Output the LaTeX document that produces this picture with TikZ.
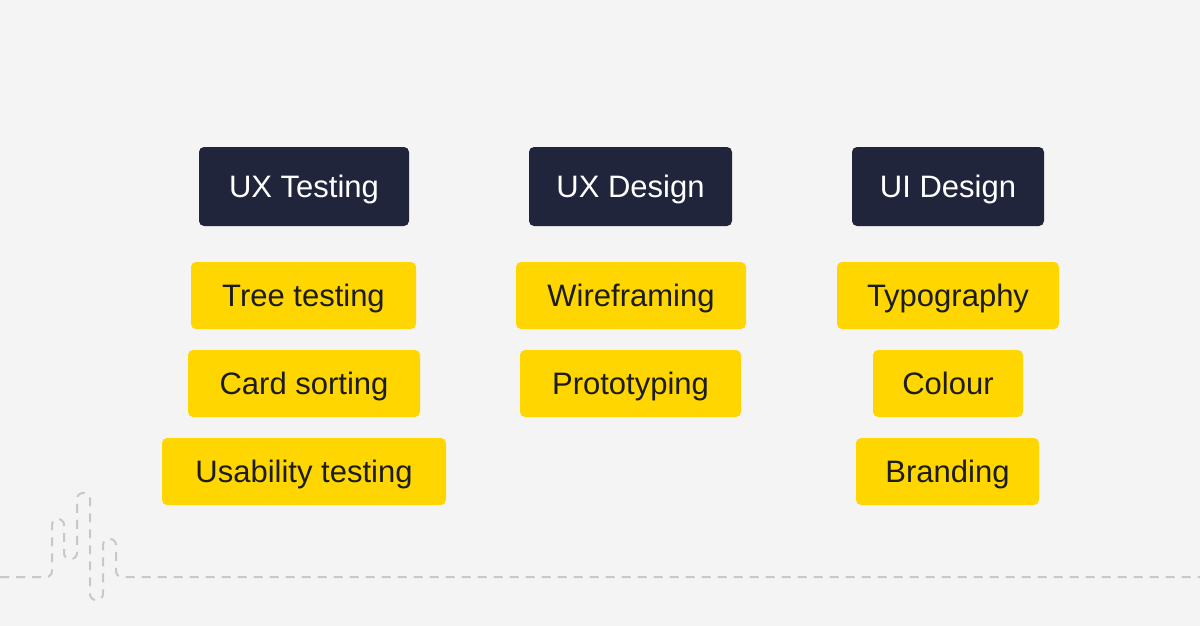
\documentclass[tikz,border=0pt]{standalone}
\usepackage{fontspec}
\setmainfont{Liberation Sans}
\definecolor{bgGrey}{HTML}{F4F4F4}
\definecolor{navyBox}{HTML}{20253B}
\definecolor{yellowBox}{HTML}{FFD600}
\definecolor{inkDark}{HTML}{1C1C1C}
\definecolor{dashGrey}{HTML}{C8C8C8}
\tikzset{
  headbox/.style={fill=navyBox, text=white, rounded corners=5pt,
    minimum height=79pt, inner sep=0pt, text height=22pt, text depth=0pt,
    font=\fontsize{31}{36}\selectfont},
  topicbox/.style={fill=yellowBox, text=inkDark, rounded corners=5pt,
    minimum height=67pt, inner sep=0pt, text height=22pt, text depth=0pt,
    font=\fontsize{31}{36}\selectfont}
}
\begin{document}
\begin{tikzpicture}[x=1pt, y=-1pt]

  % --- Background ---
  \fill[bgGrey] (0,0) rectangle (1200,626);
  \useasboundingbox (0,0) rectangle (1200,626);

  % --- Dashed line with waves ---
  \draw[dashGrey, line width=2pt, dashed, dash pattern=on 9pt off 7pt, rounded corners=6pt]
    (0,577) -- (52,577) -- (52,519) -- (64,519) -- (64,559) -- (77,559)
    -- (77,493) -- (90,493) -- (90,600) -- (103,600) -- (103,539)
    -- (116,539) -- (116,577) -- (1200,577);

  % --- Headings ---
  \node[headbox, minimum width=210pt] (uxtest) at (304,186.5) {UX Testing};
  \node[headbox, minimum width=203pt] (uxdesign) at (630.5,186.5) {UX Design};
  \node[headbox, minimum width=192pt] (uidesign) at (948,186.5) {UI Design};

  % --- UX Testing topics ---
  \node[topicbox, minimum width=225pt] (tree) at (303.5,295.5) {Tree testing};
  \node[topicbox, minimum width=232pt] (card) at (304,383.5) {Card sorting};
  \node[topicbox, minimum width=284pt] (usability) at (304,471.5) {Usability testing};

  % --- UX Design topics ---
  \node[topicbox, minimum width=230pt] (wire) at (631,295.5) {Wireframing};
  \node[topicbox, minimum width=221pt] (proto) at (630.5,383.5) {Prototyping};

  % --- UI Design topics ---
  \node[topicbox, minimum width=222pt] (typo) at (948,295.5) {Typography};
  \node[topicbox, minimum width=150pt] (colour) at (948,383.5) {Colour};
  \node[topicbox, minimum width=183pt] (brand) at (947.5,471.5) {Branding};

\end{tikzpicture}
\end{document}
